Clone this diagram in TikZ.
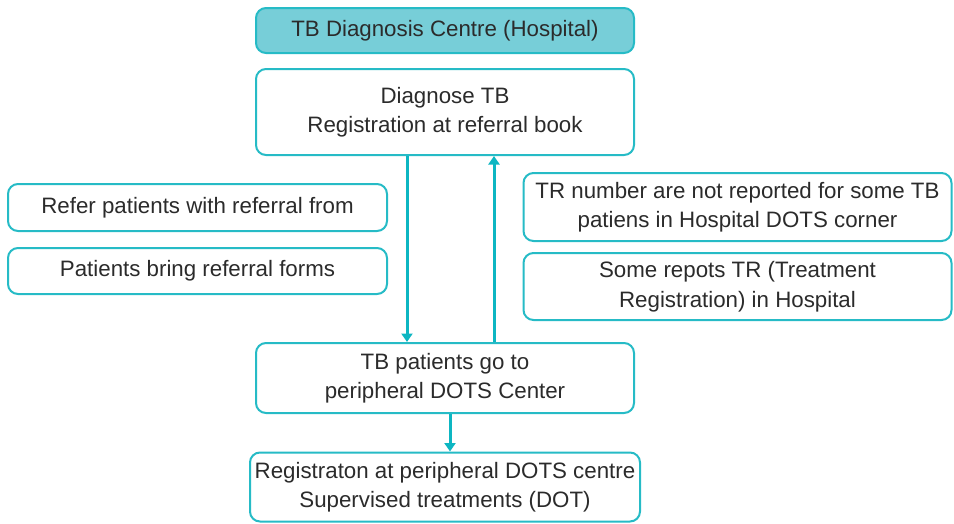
\documentclass[tikz,border=0pt]{standalone}
\usepackage{fontspec}
\setmainfont{Liberation Sans}
\usetikzlibrary{arrows.meta}
\definecolor{teal1}{HTML}{26BBC6}
\definecolor{tealarr}{HTML}{0DB6C2}
\definecolor{tealfill}{HTML}{77CED8}
\definecolor{txt}{HTML}{2B2B2B}
\tikzset{
  box/.style={draw=teal1, line width=2pt, rounded corners=10pt, fill=white,
    align=center, text=txt, inner sep=0pt,
    font=\fontsize{22.3}{29.5}\selectfont},
  arr/.style={draw=tealarr, line width=3pt, -{Triangle[width=11pt,length=8.5pt]}}
}
\begin{document}
\begin{tikzpicture}[x=1pt,y=-1pt]
\useasboundingbox (0,0) rectangle (954,523);
\node[box, fill=tealfill, minimum width=378pt, minimum height=45pt] (top) at (445,30.5) {TB Diagnosis Centre (Hospital)};
\node[box, minimum width=378pt, minimum height=86pt] (diag) at (445,112) {Diagnose TB\\Registration at referral book};
\node[box, minimum width=379pt, minimum height=47pt] (l1) at (197.5,207.5) {Refer patients with referral from};
\node[box, minimum width=379pt, minimum height=46pt] (l2) at (197.5,271) {Patients bring referral forms};
\node[box, minimum width=428pt, minimum height=68pt] (r1) at (737.5,207) {TR number are not reported for some TB\\patiens in Hospital DOTS corner};
\node[box, minimum width=428pt, minimum height=67pt] (r2) at (737.5,286.5) {Some repots TR (Treatment\\Registration) in Hospital};
\node[box, minimum width=378pt, minimum height=70pt] (mid) at (445,378) {TB patients go to\\peripheral DOTS Center};
\node[box, minimum width=390pt, minimum height=69pt] (bot) at (445,487) {Registraton at peripheral DOTS centre\\Supervised treatments (DOT)};
\draw[arr] ([xshift=-38pt]diag.south) -- ([xshift=-38pt]mid.north);
\draw[arr] ([xshift=49pt]mid.north) -- ([xshift=49pt]diag.south);
\draw[arr] ([xshift=5pt]mid.south) -- ([xshift=5pt]bot.north);
\end{tikzpicture}
\end{document}
